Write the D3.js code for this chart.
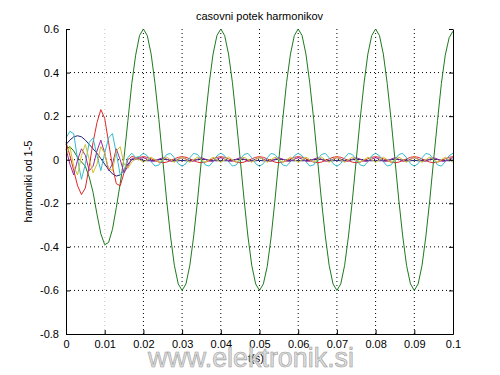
<!DOCTYPE html>
<html>
<head>
  <meta charset="utf-8">
  <title>casovni potek harmonikov</title>
  <script src="https://cdn.jsdelivr.net/npm/d3@7"></script>
  <style>
    body { margin: 0; background: #fff; }
    svg { display: block; font-family: "Liberation Sans", Arial, sans-serif; }
  </style>
</head>
<body>
  <svg width="500" height="375"></svg>

  <script>
    // time samples (s)
    const time = [
      0, 0.001, 0.002, 0.003, 0.004, 0.005, 0.006, 0.007, 0.008, 0.009,
      0.010, 0.011, 0.012, 0.013, 0.014, 0.015, 0.016, 0.017, 0.018, 0.019,
      0.020, 0.021, 0.022, 0.023, 0.024, 0.025, 0.026, 0.027, 0.028, 0.029,
      0.030, 0.031, 0.032, 0.033, 0.034, 0.035, 0.036, 0.037, 0.038, 0.039,
      0.040, 0.041, 0.042, 0.043, 0.044, 0.045, 0.046, 0.047, 0.048, 0.049,
      0.050, 0.051, 0.052, 0.053, 0.054, 0.055, 0.056, 0.057, 0.058, 0.059,
      0.060, 0.061, 0.062, 0.063, 0.064, 0.065, 0.066, 0.067, 0.068, 0.069,
      0.070, 0.071, 0.072, 0.073, 0.074, 0.075, 0.076, 0.077, 0.078, 0.079,
      0.080, 0.081, 0.082, 0.083, 0.084, 0.085, 0.086, 0.087, 0.088, 0.089,
      0.090, 0.091, 0.092, 0.093, 0.094, 0.095, 0.096, 0.097, 0.098, 0.099,
      0.100
    ];

    const blueSeries = [
      0.07, 0.09, 0.105, 0.11, 0.105, 0.09, 0.07, 0.05, 0.03, 0.005,
      -0.02, -0.045, -0.065, -0.075, -0.07, -0.05, -0.02, 0, 0.004, 0.002,
      -0.003, -0.005, -0.004, -0.002, 0, 0.002, 0.001, -0.002, -0.004, -0.005,
      -0.003, -0.005, -0.004, -0.002, 0, 0.002, 0.001, -0.002, -0.004, -0.005,
      -0.003, -0.005, -0.004, -0.002, 0, 0.002, 0.001, -0.002, -0.004, -0.005,
      -0.003, -0.005, -0.004, -0.002, 0, 0.002, 0.001, -0.002, -0.004, -0.005,
      -0.003, -0.005, -0.004, -0.002, 0, 0.002, 0.001, -0.002, -0.004, -0.005,
      -0.003, -0.005, -0.004, -0.002, 0, 0.002, 0.001, -0.002, -0.004, -0.005,
      -0.003, -0.005, -0.004, -0.002, 0, 0.002, 0.001, -0.002, -0.004, -0.005,
      -0.003, -0.005, -0.004, -0.002, 0, 0.002, 0.001, -0.002, -0.004, -0.005,
      -0.003
    ];

    const greenSeries = [
      0.05, 0.06, 0.04, 0.01, -0.01, -0.03, -0.08, -0.15, -0.25, -0.34,
      -0.39, -0.38, -0.32, -0.22, -0.11, 0.01, 0.18, 0.35, 0.48, 0.57,
      0.6, 0.57, 0.485, 0.35, 0.185, 0, -0.185, -0.35, -0.485, -0.57,
      -0.6, -0.57, -0.485, -0.35, -0.185, 0, 0.185, 0.35, 0.485, 0.57,
      0.6, 0.57, 0.485, 0.355, 0.185, 0.005, -0.18, -0.35, -0.485, -0.57,
      -0.6, -0.57, -0.49, -0.355, -0.185, 0, 0.185, 0.355, 0.485, 0.57,
      0.6, 0.57, 0.485, 0.35, 0.185, 0, -0.185, -0.35, -0.485, -0.57,
      -0.6, -0.57, -0.485, -0.35, -0.185, 0, 0.185, 0.35, 0.485, 0.57,
      0.6, 0.57, 0.485, 0.35, 0.185, 0, -0.185, -0.35, -0.485, -0.57,
      -0.6, -0.57, -0.485, -0.35, -0.185, 0, 0.18, 0.35, 0.48, 0.56,
      0.59
    ];

    const redSeries = [
      0.08, 0.02, -0.05, -0.12, -0.16, -0.13, -0.03, 0.08, 0.17, 0.23,
      0.19, 0.08, -0.03, -0.11, -0.12, -0.06, 0, 0.015, 0.01, 0.011,
      0.014, 0.011, 0.004, -0.004, -0.011, -0.014, -0.011, -0.004, 0.004, 0.011,
      0.014, 0.011, 0.004, -0.004, -0.011, -0.014, -0.011, -0.004, 0.004, 0.011,
      0.014, 0.011, 0.004, -0.004, -0.011, -0.014, -0.011, -0.004, 0.004, 0.011,
      0.014, 0.011, 0.004, -0.004, -0.011, -0.014, -0.011, -0.004, 0.004, 0.011,
      0.014, 0.011, 0.004, -0.004, -0.011, -0.014, -0.011, -0.004, 0.004, 0.011,
      0.014, 0.011, 0.004, -0.004, -0.011, -0.014, -0.011, -0.004, 0.004, 0.011,
      0.014, 0.011, 0.004, -0.004, -0.011, -0.014, -0.011, -0.004, 0.004, 0.011,
      0.014, 0.011, 0.004, -0.004, -0.011, -0.014, -0.011, -0.004, 0.004, 0.011,
      0.014
    ];

    const cyanSeries = [
      0.10, 0.13, 0.12, 0, -0.09, -0.02, 0.08, 0.10, 0.02, -0.05,
      0.03, 0.10, 0.12, 0.03, -0.07, -0.05, 0.01, 0.03, 0.01, 0.015,
      0.03, 0.018, -0.009, -0.029, -0.024, 0, 0.024, 0.029, 0.009, -0.018,
      -0.03, -0.018, 0.009, 0.029, 0.024, 0, -0.024, -0.029, -0.009, 0.018,
      0.03, 0.018, -0.009, -0.029, -0.024, 0, 0.024, 0.029, 0.009, -0.018,
      -0.03, -0.018, 0.009, 0.029, 0.024, 0, -0.024, -0.029, -0.009, 0.018,
      0.03, 0.018, -0.009, -0.029, -0.024, 0, 0.024, 0.029, 0.009, -0.018,
      -0.03, -0.018, 0.009, 0.029, 0.024, 0, -0.024, -0.029, -0.009, 0.018,
      0.03, 0.018, -0.009, -0.029, -0.024, 0, 0.024, 0.029, 0.009, -0.018,
      -0.03, -0.018, 0.009, 0.029, 0.024, 0, -0.024, -0.029, -0.009, 0.018,
      0.03
    ];

    const magentaSeries = [
      0.05, -0.02, -0.07, 0, 0.05, 0.02, -0.05, -0.03, 0.04, 0.09,
      0.03, -0.05, -0.02, 0.05, 0, -0.06, -0.03, 0.005, 0.003, 0.006,
      0.009, 0.003, -0.007, -0.007, 0.003, 0.009, 0.003, -0.007, -0.007, 0.003,
      0.009, 0.003, -0.007, -0.007, 0.003, 0.009, 0.003, -0.007, -0.007, 0.003,
      0.009, 0.003, -0.007, -0.007, 0.003, 0.009, 0.003, -0.007, -0.007, 0.003,
      0.009, 0.003, -0.007, -0.007, 0.003, 0.009, 0.003, -0.007, -0.007, 0.003,
      0.009, 0.003, -0.007, -0.007, 0.003, 0.009, 0.003, -0.007, -0.007, 0.003,
      0.009, 0.003, -0.007, -0.007, 0.003, 0.009, 0.003, -0.007, -0.007, 0.003,
      0.009, 0.003, -0.007, -0.007, 0.003, 0.009, 0.003, -0.007, -0.007, 0.003,
      0.009, 0.003, -0.007, -0.007, 0.003, 0.009, 0.003, -0.007, -0.007, 0.003,
      0.009
    ];

    const yellowSeries = [
      0.02, 0.06, -0.03, -0.07, 0.02, 0.07, 0, -0.06, -0.02, 0.06,
      0.03, -0.04, -0.05, 0.04, 0.06, -0.02, -0.04, -0.01, 0.005, 0,
      -0.012, 0, 0.012, 0, -0.012, 0, 0.012, 0, -0.012, 0,
      0.012, 0, -0.012, 0, 0.012, 0, -0.012, 0, 0.012, 0,
      -0.012, 0, 0.012, 0, -0.012, 0, 0.012, 0, -0.012, 0,
      0.012, 0, -0.012, 0, 0.012, 0, -0.012, 0, 0.012, 0,
      -0.012, 0, 0.012, 0, -0.012, 0, 0.012, 0, -0.012, 0,
      0.012, 0, -0.012, 0, 0.012, 0, -0.012, 0, 0.012, 0,
      -0.012, 0, 0.012, 0, -0.012, 0, 0.012, 0, -0.012, 0,
      0.012, 0, -0.012, 0, 0.012, 0, -0.012, 0, 0.012, 0,
      -0.012
    ];

    const xTicks = [0, 0.01, 0.02, 0.03, 0.04, 0.05, 0.06, 0.07, 0.08, 0.09, 0.1];
    const yTicks = [-0.8, -0.6, -0.4, -0.2, 0, 0.2, 0.4, 0.6];

    // plotting order as in matlab: b g r c m y
    const series = [
      { values: blueSeries, color: "#1f1f7a" },
      { values: greenSeries, color: "#1e7a1e" },
      { values: redSeries, color: "#e02828" },
      { values: cyanSeries, color: "#35bccc" },
      { values: magentaSeries, color: "#9a2c9e" },
      { values: yellowSeries, color: "#cfc22a" }
    ];

    const svg = d3.select("svg");
    const margin = { top: 29, right: 47, bottom: 41, left: 66 };
    const width = +svg.attr("width");
    const height = +svg.attr("height");

    const xScale = d3.scaleLinear()
      .domain([0, 0.1])
      .range([margin.left, width - margin.right]);

    const yScale = d3.scaleLinear()
      .domain([-0.8, 0.6])
      .range([height - margin.bottom, margin.top]);

    const fmt = d => String(+d.toFixed(2));

    // dotted grid
    const grid = svg.append("g");
    grid.selectAll(".vg")
      .data(xTicks.filter(d => d > 0 && d < 0.1))
      .join("line")
      .attr("x1", d => xScale(d)).attr("x2", d => xScale(d))
      .attr("y1", yScale(-0.8)).attr("y2", yScale(0.6))
      .attr("stroke", d => d === 0.01 ? "#c8c8c8" : "#000")
      .attr("stroke-dasharray", "1,3");
    grid.selectAll(".hg")
      .data(yTicks.filter(d => d > -0.8 && d < 0.6))
      .join("line")
      .attr("x1", xScale(0)).attr("x2", xScale(0.1))
      .attr("y1", d => yScale(d)).attr("y2", d => yScale(d))
      .attr("stroke", "#000")
      .attr("stroke-dasharray", "1,3");

    // curves
    const line = d3.line()
      .x((d, i) => xScale(time[i]))
      .y(d => yScale(d));

    svg.append("g")
      .selectAll("path")
      .data(series)
      .join("path")
      .attr("fill", "none")
      .attr("stroke", d => d.color)
      .attr("stroke-width", 1)
      .attr("d", d => line(d.values));

    // axes, ticks pointing inward
    const xAxis = svg.append("g")
      .attr("transform", `translate(0,${yScale(-0.8)})`)
      .call(d3.axisBottom(xScale).tickValues(xTicks).tickFormat(fmt)
        .tickSize(-4).tickPadding(6).tickSizeOuter(0));

    const yAxis = svg.append("g")
      .attr("transform", `translate(${xScale(0)},0)`)
      .call(d3.axisLeft(yScale).tickValues(yTicks).tickFormat(fmt)
        .tickSize(-4).tickPadding(7).tickSizeOuter(0));

    const rAxis = svg.append("g")
      .attr("transform", `translate(${xScale(0.1)},0)`)
      .call(d3.axisRight(yScale).tickValues(yTicks).tickFormat("")
        .tickSize(-4).tickSizeOuter(0));

    [xAxis, yAxis, rAxis].forEach(a => {
      a.selectAll("path, line").attr("stroke", "#000");
      a.selectAll("text").attr("fill", "#000").style("font-size", "11px");
    });

    // title and labels
    svg.append("text")
      .attr("x", (xScale(0) + xScale(0.1)) / 2)
      .attr("y", 20)
      .attr("text-anchor", "middle")
      .style("font-size", "11px")
      .text("casovni potek  harmonikov");

    svg.append("text")
      .attr("transform", `translate(32,${(yScale(-0.8) + yScale(0.6)) / 2}) rotate(-90)`)
      .attr("text-anchor", "middle")
      .style("font-size", "11px")
      .text("harmoniki od 1-5");

    svg.append("text")
      .attr("x", 256)
      .attr("y", 362)
      .attr("text-anchor", "middle")
      .style("font-size", "11px")
      .text("t(s)");

    // watermark
    svg.append("text")
      .attr("x", 251)
      .attr("y", 367)
      .attr("text-anchor", "middle")
      .attr("textLength", 206)
      .attr("lengthAdjust", "spacingAndGlyphs")
      .style("font-size", "27px")
      .attr("fill", "#dadada")
      .attr("fill-opacity", 0.85)
      .attr("stroke", "#9a9a9a")
      .attr("stroke-width", 0.6)
      .text("www.elektronik.si");
  </script>
</body>
</html>
